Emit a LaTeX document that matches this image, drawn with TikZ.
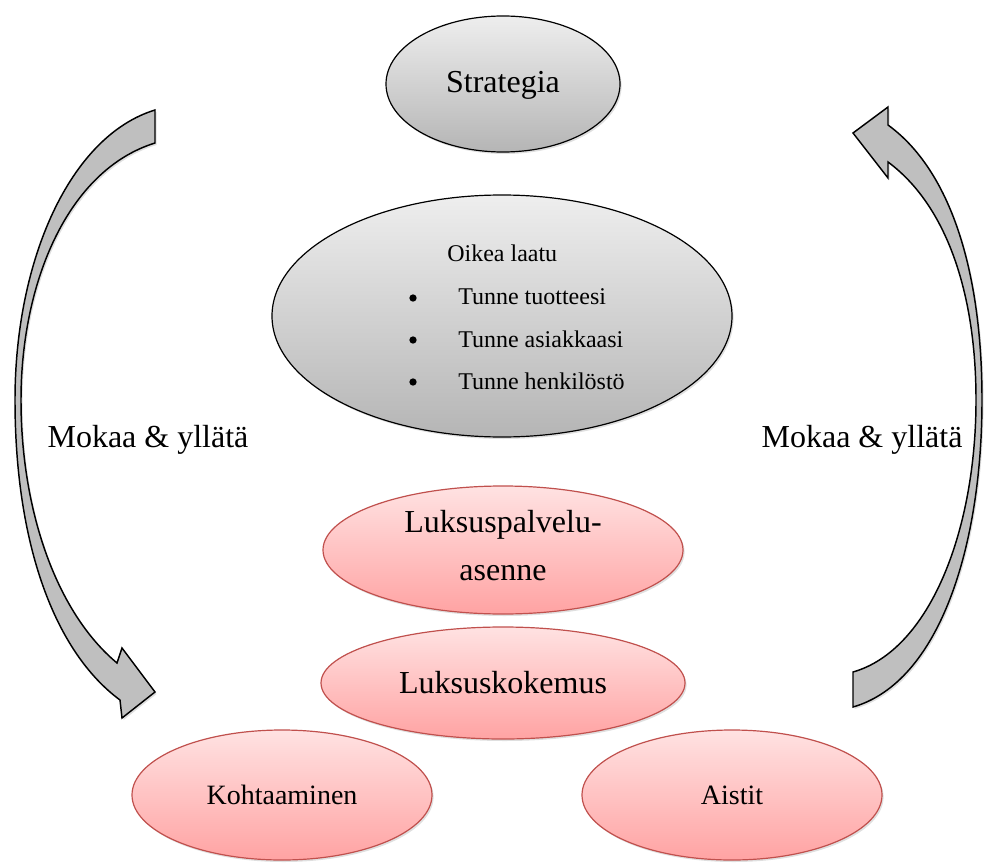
\documentclass[tikz,border=0pt]{standalone}
\usepackage{fontspec}
\setmainfont{Liberation Serif}
\usetikzlibrary{shapes.geometric,shadows}
\definecolor{pinktop}{HTML}{FFE2E2}
\definecolor{pinkbot}{HTML}{FFA3A3}
\definecolor{pinkline}{HTML}{C0504D}
\definecolor{greytop}{HTML}{EEEEEE}
\definecolor{greybot}{HTML}{B5B5B5}
\definecolor{arrowfill}{HTML}{BFBFBF}
\tikzset{
  shadowed/.style={drop shadow={opacity=0.25,shadow xshift=1.2pt,shadow yshift=-1.5pt}},
  greyell/.style={ellipse,draw=black,line width=0.9pt,top color=greytop,bottom color=greybot,inner sep=0pt,shadowed},
  pinkell/.style={ellipse,draw=pinkline,line width=0.9pt,top color=pinktop,bottom color=pinkbot,inner sep=0pt,shadowed},
  bigtext/.style={font=\fontsize{24}{36}\selectfont,align=center},
  midtext/.style={font=\fontsize{21}{25}\selectfont},
  smalltext/.style={font=\fontsize{18}{22}\selectfont,inner sep=0pt,anchor=west},
  bulletdot/.style={circle,fill=black,inner sep=0pt,minimum size=5.5pt},
  blockarrow/.style={draw=black,line width=1.1pt,fill=arrowfill,line join=miter,shadowed}
}
\begin{document}
\begin{tikzpicture}[x=0.75pt,y=-0.75pt]
\useasboundingbox (0,0) rectangle (984,863);
% curved arrows
\draw[blockarrow] (155,110) .. controls (70,136) and (15,260) .. (15,400)
   .. controls (15,545) and (55,652) .. (120,700) -- (122,718) -- (155,692) -- (122,648) -- (117,663)
   .. controls (56,612) and (21,510) .. (21,400) .. controls (21,282) and (68,170) .. (155,143) -- cycle;
\draw[blockarrow] (888,125) .. controls (950,170) and (982,270) .. (982,400)
   .. controls (982,545) and (940,682) .. (853,707) -- (853,672)
   .. controls (930,650) and (976,530) .. (976,400) .. controls (976,292) and (946,205) .. (888,162)
   -- (888,178) -- (853,133) -- (888,107) -- cycle;
% ellipses
\node[greyell,minimum width=175.5pt,minimum height=102pt] (strat) at (503,84) {};
\node[bigtext] (strattxt) at (503,85) {Strategia};
\node[greyell,minimum width=345pt,minimum height=181.5pt] (laatu) at (502,316) {};
\node[smalltext] (ol) at (447,253) {Oikea laatu};
\node[bulletdot] (b1) at (413,298) {};
\node[smalltext] (t1) at (458,297) {Tunne tuotteesi};
\node[bulletdot] (b2) at (413,340) {};
\node[smalltext] (t2) at (458,339) {Tunne asiakkaasi};
\node[bulletdot] (b3) at (413,382) {};
\node[smalltext] (t3) at (458,381) {Tunne henkilöstö};
\node[pinkell,minimum width=270pt,minimum height=96pt] (asenne) at (503,550) {};
\node[bigtext] (asennetxt) at (503,546) {Luksuspalvelu-\\asenne};
\node[pinkell,minimum width=273pt,minimum height=84pt] (kokemus) at (503,683) {};
\node[bigtext] (kokemustxt) at (503,683) {Luksuskokemus};
\node[pinkell,minimum width=225pt,minimum height=97.5pt] (kohta) at (282,795) {};
\node[midtext] (kohtatxt) at (282,795) {Kohtaaminen};
\node[pinkell,minimum width=225pt,minimum height=97.5pt] (aistit) at (732,795) {};
\node[midtext] (aistittxt) at (732,795) {Aistit};
% side labels
\node[bigtext] (mokl) at (148,440) {Mokaa \& yllätä};
\node[bigtext] (mokr) at (862,440) {Mokaa \& yllätä};
\end{tikzpicture}
\end{document}
